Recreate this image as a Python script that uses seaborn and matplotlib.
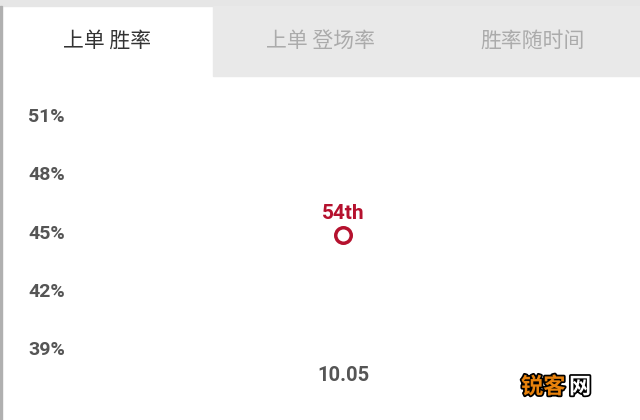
import pandas as pd
import matplotlib.pyplot as plt
import matplotlib.patches as mpatches
import matplotlib.patheffects as pe
import seaborn as sns

# data
patches_ver = ['10.05']
win_rate = [44.8]
rank_label = ['54th']
y_ticks = [39, 42, 45, 48, 51]
tab_names = ['上单 胜率', '上单 登场率', '胜率随时间']

sns.set_style('white')
plt.rcParams['font.family'] = ['Roboto', 'Noto Sans CJK SC', 'DejaVu Sans']

df = pd.DataFrame({'patch': patches_ver, 'win': win_rate, 'rank': rank_label})

fig = plt.figure(figsize=(6.4, 4.2), dpi=100)
fig.patch.set_facecolor('white')

# tab bar on top
fig.patches.append(mpatches.Rectangle((0, 1 - 6/420), 1, 6/420, transform=fig.transFigure,
                                      color='#e6e6e6', zorder=0))
fig.patches.append(mpatches.Rectangle((213/640, 1 - 76/420), 1 - 213/640, 70/420,
                                      transform=fig.transFigure, color='#e9e9e9', zorder=0))
fig.patches.append(mpatches.Rectangle((0, 0), 2/640, 1 - 6/420, transform=fig.transFigure,
                                      color='#b0b0b0', zorder=1))
tab_x = [107, 320, 533]
for i, name in enumerate(tab_names):
    fig.text(tab_x[i]/640, 1 - 41/420, name, ha='center', va='center', fontsize=15,
             color='#333333' if i == 0 else '#ababab', family=['Noto Sans CJK SC', 'DejaVu Sans'])

ax = fig.add_axes([70/640, 1 - 357.7/420, 546/640, 262.1/420])
sns.scatterplot(data=df, x='patch', y='win', ax=ax, s=125, marker='o',
                facecolor='white', edgecolor='#b5112e', linewidth=2.5, zorder=3)
for _, r in df.iterrows():
    ax.annotate(r['rank'], xy=(r['patch'], r['win']), xytext=(0, 9), textcoords='offset points',
                ha='center', va='bottom', fontsize=15, fontweight='bold', color='#b5112e')

ax.set_xlim(-0.5, 0.5)
ax.set_ylim(38.5, 52)
ax.set_yticks(y_ticks)
ax.set_yticklabels([f'{v}%' for v in y_ticks], ha='left')
ax.tick_params(axis='y', length=0, pad=30.2, labelsize=14, labelcolor='#555555')
ax.tick_params(axis='x', length=0, pad=6, labelsize=14.5, labelcolor='#555555')
for lab in ax.get_xticklabels() + ax.get_yticklabels():
    lab.set_fontweight('bold')
ax.set_xlabel('')
ax.set_ylabel('')
sns.despine(ax=ax, left=True, bottom=True)

# watermark
fig.text(521/640, 1 - 387/420, '锐客', fontsize=16, fontweight='bold', color='#e8820c',
         family=['Noto Sans CJK SC'], va='center',
         path_effects=[pe.withStroke(linewidth=2.5, foreground='black')])
fig.text(569/640, 1 - 387/420, '网', fontsize=16, fontweight='bold', color='white',
         family=['Noto Sans CJK SC'], va='center',
         path_effects=[pe.withStroke(linewidth=2.5, foreground='black')])

fig.savefig('out.png', dpi=100)
